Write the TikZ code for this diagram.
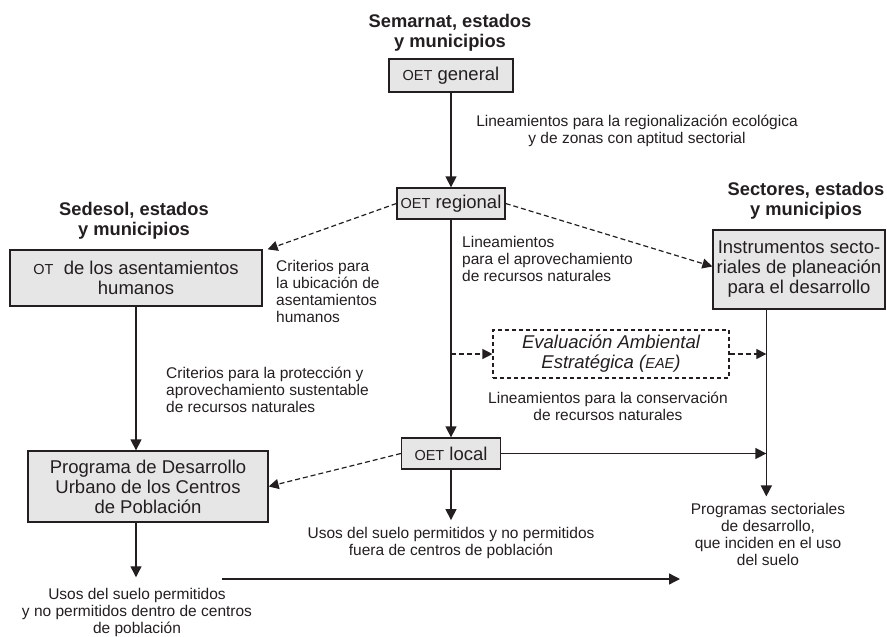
\documentclass[tikz,border=0pt]{standalone}
\usepackage{fontspec}
\setmainfont{Liberation Sans}
\usetikzlibrary{arrows.meta,calc}
\definecolor{ink}{HTML}{231F20}
\definecolor{boxgray}{HTML}{E6E6E6}
\newcommand\lblfont{\fontsize{15.5}{16.8}\selectfont}
\newcommand\bxfont{\fontsize{18.5}{20}\selectfont}
\newcommand\ttlfont{\fontsize{18.3}{20}\selectfont\bfseries}
\newcommand\smcaps[1]{{\fontsize{14.5}{17}\selectfont #1}}
\begin{document}
\begin{tikzpicture}[x=1pt,y=-1pt,
  box/.style={draw=ink, fill=boxgray, line width=1.3pt, inner sep=0pt, align=center, font=\bxfont, text=ink},
  ebox/.style={draw=ink, line width=1.1pt, dash pattern=on 4pt off 3pt, inner sep=0pt, align=center, font=\bxfont\itshape, text=ink},
  ttl/.style={font=\ttlfont, inner sep=0pt, align=center, anchor=base, text=ink},
  lblc/.style={font=\lblfont, inner sep=0pt, align=center, anchor=base, text=ink},
  lbll/.style={font=\lblfont, inner sep=0pt, align=left, anchor=base west, text=ink},
  arr/.style={draw=ink, line width=1.4pt, -{Triangle[length=11pt,width=11pt]}},
  darr/.style={draw=ink, line width=1.2pt, dash pattern=on 5pt off 3pt, -{Triangle[length=10pt,width=10pt]}}]
\useasboundingbox (0,0) rectangle (887,637);

% titles (anchored at the baseline of the last line)
\node[ttl] (tsem) at (450,47) {Semarnat, estados\\y municipios};
\node[ttl] (tsed) at (134,235) {Sedesol, estados\\y municipios};
\node[ttl] (tsec) at (806,215) {Sectores, estados\\y municipios};

% boxes
\node[box, minimum width=124pt, minimum height=33pt] (gen) at (451,75.5) {\smcaps{OET} general};
\node[box, minimum width=108pt, minimum height=31pt] (reg) at (451,203.5) {\smcaps{OET} regional};
\node[box, minimum width=172pt, minimum height=79pt] (inst) at (799,269.5) {Instrumentos secto-\\riales de planeación\\para el desarrollo};
\node[box, minimum width=252pt, minimum height=56pt] (ot) at (136,278) {\smcaps{OT}\ \ de los asentamientos\\humanos};
\node[ebox, minimum width=236pt, minimum height=48pt] (eae) at (611,354) {Evaluación Ambiental\\Estratégica (\smcaps{EAE})};
\node[box, minimum width=99pt, minimum height=31pt] (loc) at (451,453.5) {\smcaps{OET} local};
\node[box, minimum width=240pt, minimum height=71pt] (prog) at (148,486.5) {Programa de Desarrollo\\Urbano de los Centros\\de Población};

% labels (anchored at the baseline of the last line)
\node[lblc] (l1) at (637,143) {Lineamientos para la regionalización ecológica\\y de zonas con aptitud sectorial};
\node[lbll] (l2) at (276,322) {Criterios para\\la ubicación de\\asentamientos\\humanos};
\node[lbll] (l3) at (462,281) {Lineamientos\\para el aprovechamiento\\de recursos naturales};
\node[lbll] (l4) at (166,412) {Criterios para la protección y\\aprovechamiento sustentable\\de recursos naturales};
\node[lblc] (l5) at (608,420) {Lineamientos para la conservación\\de recursos naturales};
\node[lblc] (usos1) at (451,555) {Usos del suelo permitidos y no permitidos\\fuera de centros de población};
\node[lblc] (prgs) at (768,565) {Programas sectoriales\\de desarrollo,\\que inciden en el uso\\del suelo};
\node[lblc] (usos2) at (137,633) {Usos del suelo permitidos\\y no permitidos dentro de centros\\de población};

% coordinates
\coordinate (rv) at ($(inst.south west)+(54,0)$);
\coordinate (h1) at (222,579);
\coordinate (h2) at (680,579);

% connectors
\draw[arr] (gen.south) -- (reg.north);
\draw[arr] (reg.south) -- (loc.north);
\draw[darr] (reg.west) -- ([xshift=5pt]ot.north east);
\draw[darr] (reg.east) -- ([yshift=3pt]inst.west);
\draw[darr] (eae.west -| reg.south) -- (eae.west);
\draw[darr] (eae.east) -- (eae.east -| rv);
\draw[arr] (rv) -- ($(rv |- prgs.north)+(0,-6.7)$);
\draw[arr] (loc.east) -- (loc.east -| rv);
\draw[darr] (loc.west) -- (prog.east);
\draw[arr] (loc.south) -- ($(loc.south |- usos1.north)+(0,-6.7)$);
\draw[arr] (ot.south) -- (ot.south |- prog.north);
\draw[arr] (ot.south |- prog.south) -- ($(ot.south |- usos2.north)+(0,-10.7)$);
\draw[arr] (h1) -- (h2);
\end{tikzpicture}
\end{document}
